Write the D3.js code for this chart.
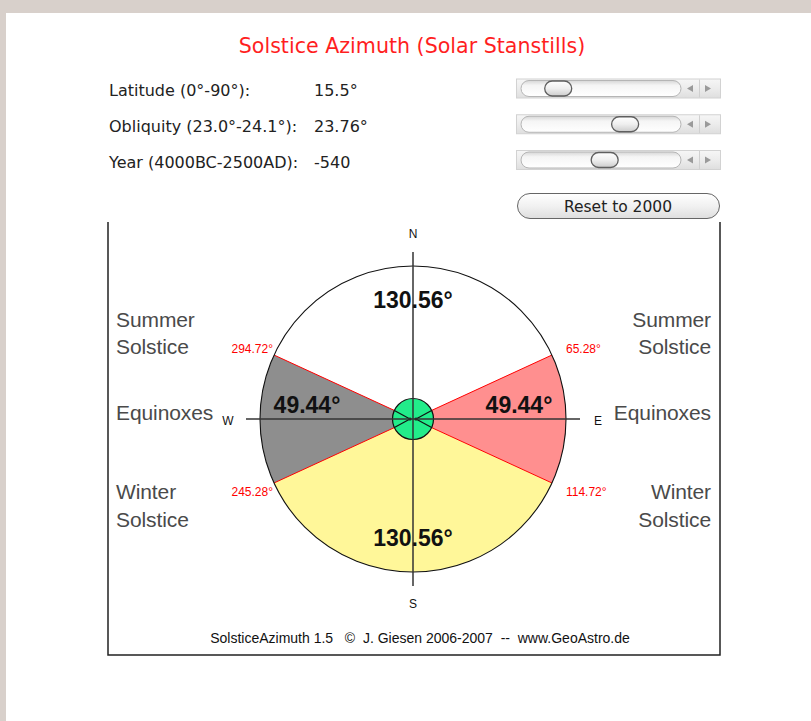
<!DOCTYPE html>
<html>
<head>
<meta charset="utf-8">
<script src="https://cdn.jsdelivr.net/npm/d3@7"></script>
<style>
  body { margin: 0; background: #d8d0cb; overflow: hidden; }
  svg { display: block; }
</style>
</head>
<body>
<script>
// Values
const controlLabels = ["Latitude (0°-90°):", "Obliquity (23.0°-24.1°):", "Year (4000BC-2500AD):"];
const controlValues = [15.5, 23.76, -540];
const controlText = ["15.5°", "23.76°", "-540"];
const controlMin = [0, 23.0, -4000];
const controlMax = [90, 24.1, 2500];

// sectors, azimuth in degrees clockwise from north
const sectorNames = ["north", "east", "south", "west"];
const sectorStart = [-65.28, 65.28, 114.72, 245.28];
const sectorEnd = [65.28, 114.72, 245.28, 294.72];
const sectorSpan = [130.56, 49.44, 130.56, 49.44];

const stanstillAz = [65.28, 114.72, 245.28, 294.72];
const stanstillText = ["65.28°", "114.72°", "245.28°", "294.72°"];

const compassLetters = ["N", "E", "S", "W"];
const compassAz = [0, 90, 180, 270];

const sideLabels = [["Summer", "Solstice"], ["Equinoxes"], ["Winter", "Solstice"]];

const sectorFill = { north: "#ffffff", east: "#ff8f8f", south: "#fff799", west: "#8e8e8e" };

const W = 811, H = 721;
const cx = 413, cy = 419, R = 153;

const svg = d3.select("body").append("svg")
    .attr("width", W)
    .attr("height", H);

// page background and white panel
svg.append("rect").attr("width", W).attr("height", H).attr("fill", "#d8d0cb");
svg.append("rect").attr("x", 6).attr("y", 13).attr("width", W - 6).attr("height", H - 13).attr("fill", "#ffffff");

const defs = svg.append("defs");
function vgrad(id, stops) {
    const g = defs.append("linearGradient").attr("id", id)
        .attr("x1", 0).attr("y1", 0).attr("x2", 0).attr("y2", 1);
    stops.forEach(s => g.append("stop").attr("offset", s[0]).attr("stop-color", s[1]));
}
vgrad("boxGrad", [[0, "#f6f6f6"], [0.5, "#ececec"], [1, "#dedede"]]);
vgrad("trackGrad", [[0, "#d6d6d6"], [0.3, "#f5f5f5"], [1, "#ffffff"]]);
vgrad("thumbGrad", [[0, "#ffffff"], [0.5, "#efefef"], [1, "#cccccc"]]);
vgrad("btnGrad", [[0, "#ffffff"], [0.5, "#f1f1f1"], [1, "#dedede"]]);

// title
svg.append("text")
    .attr("x", 412).attr("y", 53)
    .attr("text-anchor", "middle")
    .attr("font-family", "DejaVu Sans, sans-serif")
    .attr("font-size", 20.6)
    .attr("fill", "#ff1f1f")
    .text("Solstice Azimuth (Solar Stanstills)");

// controls: labels, values and sliders
const rowY = d3.scalePoint().domain(d3.range(controlLabels.length)).range([88.5, 160]);

const rows = svg.append("g").selectAll("g")
    .data(controlLabels)
    .enter()
    .append("g")
    .attr("transform", (d, i) => "translate(0," + rowY(i) + ")");

rows.append("text")
    .attr("x", 109).attr("y", 7.5)
    .attr("font-family", "DejaVu Sans, sans-serif")
    .attr("font-size", 16)
    .attr("fill", "#222")
    .text(d => d);

rows.append("text")
    .attr("x", 314).attr("y", 7.5)
    .attr("font-family", "DejaVu Sans, sans-serif")
    .attr("font-size", 16)
    .attr("fill", "#222")
    .text((d, i) => controlText[i]);

// slider body
rows.append("rect")
    .attr("x", 516.5).attr("y", -9.5)
    .attr("width", 204).attr("height", 19)
    .attr("fill", "url(#boxGrad)")
    .attr("stroke", "#d2d2d2");

rows.append("rect")
    .attr("x", 521).attr("y", -8)
    .attr("width", 160).attr("height", 16).attr("rx", 8)
    .attr("fill", "url(#trackGrad)")
    .attr("stroke", "#b5b5b5");

rows.append("line")
    .attr("x1", 699.5).attr("x2", 699.5).attr("y1", -9).attr("y2", 9)
    .attr("stroke", "#d0d0d0");

rows.append("path")
    .attr("d", "M687,0 L693,-3.5 L693,3.5 Z")
    .attr("fill", "#9a9a9a");
rows.append("path")
    .attr("d", "M711,0 L705,-3.5 L705,3.5 Z")
    .attr("fill", "#9a9a9a");

// thumbs placed through a scale per slider
rows.append("rect")
    .attr("x", (d, i) => d3.scaleLinear().domain([controlMin[i], controlMax[i]]).range([536, 665])(controlValues[i]) - 13.5)
    .attr("y", -7.5)
    .attr("width", 27).attr("height", 15).attr("rx", 7.5)
    .attr("fill", "url(#thumbGrad)")
    .attr("stroke", "#5f5f5f")
    .attr("stroke-width", 1.3);

// reset button
svg.append("rect")
    .attr("x", 517.5).attr("y", 193.5)
    .attr("width", 202).attr("height", 25).attr("rx", 12.5)
    .attr("fill", "url(#btnGrad)")
    .attr("stroke", "#666");
svg.append("text")
    .attr("x", 618).attr("y", 211.5)
    .attr("text-anchor", "middle")
    .attr("font-family", "DejaVu Sans, sans-serif")
    .attr("font-size", 15.5)
    .attr("fill", "#222")
    .text("Reset to 2000");

// frame around the diagram (open at top)
svg.append("path")
    .attr("d", "M108,222 L108,655 L720,655 L720,222")
    .attr("fill", "none")
    .attr("stroke", "#222")
    .attr("stroke-width", 1.5);

// compass
const angle = d3.scaleLinear().domain([0, 360]).range([0, 2 * Math.PI]);
const polar = (az, r) => [cx + r * Math.sin(angle(az)), cy - r * Math.cos(angle(az))];

const chart = svg.append("g");

const arc = d3.arc()
    .innerRadius(0)
    .outerRadius(R)
    .startAngle((d, i) => angle(sectorStart[i]))
    .endAngle((d, i) => angle(sectorEnd[i]));

chart.append("g")
    .attr("transform", "translate(" + cx + "," + cy + ")")
    .selectAll("path")
    .data(sectorNames)
    .enter()
    .append("path")
    .attr("d", arc)
    .attr("fill", d => sectorFill[d]);

// stanstill rays in red
chart.append("g").selectAll("line")
    .data(stanstillAz)
    .enter()
    .append("line")
    .attr("x1", cx).attr("y1", cy)
    .attr("x2", d => polar(d, R)[0])
    .attr("y2", d => polar(d, R)[1])
    .attr("stroke", "#ff0000")
    .attr("stroke-width", 1);

chart.append("circle")
    .attr("cx", cx).attr("cy", cy).attr("r", R)
    .attr("fill", "none")
    .attr("stroke", "#111")
    .attr("stroke-width", 1.1);

// centre disc
chart.append("circle")
    .attr("cx", cx).attr("cy", cy).attr("r", 20.5)
    .attr("fill", "#22ec8a")
    .attr("stroke", "#111")
    .attr("stroke-width", 1.2);

chart.append("g").selectAll("line")
    .data(stanstillAz)
    .enter()
    .append("line")
    .attr("x1", d => cx + (d < 180 ? 3 : -3)).attr("y1", cy)
    .attr("x2", d => polar(d, 20.5)[0])
    .attr("y2", d => polar(d, 20.5)[1])
    .attr("stroke", "#111")
    .attr("stroke-width", 1.2);

chart.append("g").selectAll("circle")
    .data([-3, 3])
    .enter()
    .append("circle")
    .attr("cx", d => cx + d).attr("cy", cy).attr("r", 1.6)
    .attr("fill", "#111");

// cross axes
chart.append("g").selectAll("line")
    .data([0, 90])
    .enter()
    .append("line")
    .attr("x1", d => polar(d, R + 14)[0]).attr("y1", d => polar(d, R + 14)[1])
    .attr("x2", d => polar(d + 180, R + 14)[0]).attr("y2", d => polar(d + 180, R + 14)[1])
    .attr("stroke", "#333")
    .attr("stroke-width", 1.5);

// compass letters
chart.append("g").selectAll("text")
    .data(compassLetters)
    .enter()
    .append("text")
    .attr("x", (d, i) => polar(compassAz[i], 185)[0])
    .attr("y", (d, i) => polar(compassAz[i], 185)[1] + (i % 2 ? 6 : 4))
    .attr("text-anchor", "middle")
    .attr("font-family", "Liberation Sans, Arial, sans-serif")
    .attr("font-size", 12)
    .attr("fill", "#111")
    .text(d => d);

// sector span labels
const spanR = [119, 106, 119, 106];
chart.append("g").selectAll("text")
    .data(sectorSpan)
    .enter()
    .append("text")
    .attr("x", (d, i) => polar((sectorStart[i] + sectorEnd[i]) / 2, spanR[i])[0])
    .attr("y", (d, i) => polar((sectorStart[i] + sectorEnd[i]) / 2, spanR[i])[1] + (i % 2 ? -6 : 8))
    .attr("text-anchor", "middle")
    .attr("font-family", "Liberation Sans, Arial, sans-serif")
    .attr("font-weight", "bold")
    .attr("font-size", 23)
    .attr("fill", "#111")
    .text(d => d.toFixed(2) + "°");

// stanstill azimuth labels in red
chart.append("g").selectAll("text")
    .data(stanstillText)
    .enter()
    .append("text")
    .attr("x", (d, i) => polar(stanstillAz[i], R)[0] + (stanstillAz[i] < 180 ? 14 : -1))
    .attr("y", (d, i) => polar(stanstillAz[i], R)[1] + (Math.cos(angle(stanstillAz[i])) > 0 ? -2 : 13))
    .attr("text-anchor", (d, i) => stanstillAz[i] < 180 ? "start" : "end")
    .attr("font-family", "Liberation Sans, Arial, sans-serif")
    .attr("font-size", 12)
    .attr("fill", "#ff0000")
    .text(d => d);

// side labels, both sides
const sideBase = [[327, 354], [420], [499, 527]];
[["start", 116], ["end", 711]].forEach(([anchor, x]) => {
    sideLabels.forEach((lines, i) => {
        lines.forEach((t, j) => {
            svg.append("text")
                .attr("x", x).attr("y", sideBase[i][j])
                .attr("text-anchor", anchor)
                .attr("font-family", "Liberation Sans, Arial, sans-serif")
                .attr("font-size", 21)
                .attr("letter-spacing", -0.1)
                .attr("fill", "#4a4a4a")
                .text(t);
        });
    });
});

// credit line
svg.append("text")
    .attr("x", 420).attr("y", 643)
    .attr("text-anchor", "middle")
    .attr("font-family", "Liberation Sans, Arial, sans-serif")
    .attr("font-size", 14)
    .attr("fill", "#111")
    .style("white-space", "pre")
    .text("SolsticeAzimuth 1.5   ©  J. Giesen 2006-2007  --  www.GeoAstro.de");
</script>
</body>
</html>
